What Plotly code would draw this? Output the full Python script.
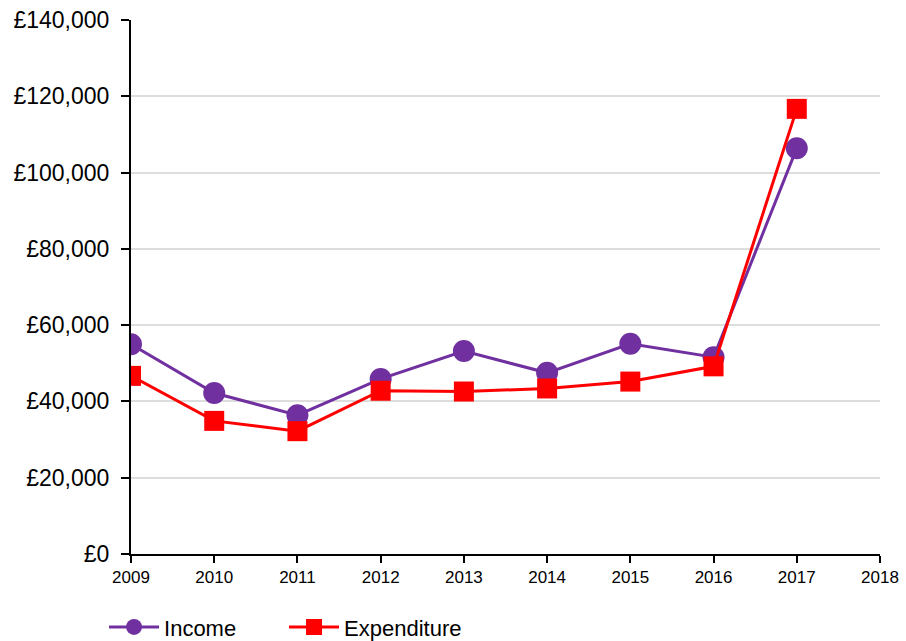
import plotly.graph_objects as go

years = [2009, 2010, 2011, 2012, 2013, 2014, 2015, 2016, 2017]
income = [55000, 42200, 36400, 45900, 53200, 47500, 55100, 51600, 106400]
expenditure = [46700, 34900, 32200, 42800, 42600, 43400, 45200, 49200, 116700]
y_ticks = [0, 20000, 40000, 60000, 80000, 100000, 120000, 140000]
y_tick_labels = ["\u00a3" + f"{v:,}" for v in y_ticks]
x_ticks = [2009, 2010, 2011, 2012, 2013, 2014, 2015, 2016, 2017, 2018]

font = "Liberation Sans, Arial, sans-serif"

fig = go.Figure()
fig.add_trace(go.Scatter(
    x=years, y=income, name="Income", mode="lines+markers",
    line=dict(color="#7030A0", width=3),
    marker=dict(symbol="circle", size=22, color="#7030A0"),
))
fig.add_trace(go.Scatter(
    x=years, y=expenditure, name="Expenditure", mode="lines+markers",
    line=dict(color="#FF0000", width=3),
    marker=dict(symbol="square", size=20, color="#FF0000"),
))

fig.update_layout(
    width=906, height=641,
    margin=dict(l=131, r=26, t=20, b=87, autoexpand=False),
    plot_bgcolor="white", paper_bgcolor="white",
    font=dict(family=font, color="#000000"),
    showlegend=True,
    legend=dict(orientation="h", x=-0.036, xanchor="left", y=-0.137, yanchor="middle",
                font=dict(size=22, family=font), itemwidth=50,
                entrywidth=115, entrywidthmode="pixels", traceorder="normal"),
    xaxis=dict(
        range=[2009, 2018], tickvals=x_ticks, ticktext=[str(v) for v in x_ticks],
        showgrid=False, zeroline=False, showline=True, linecolor="black", linewidth=2,
        ticks="outside", ticklen=7, tickwidth=2, tickcolor="black",
        tickfont=dict(size=17, family=font), fixedrange=True,
    ),
    yaxis=dict(
        range=[0, 140000], tickvals=y_ticks, ticktext=y_tick_labels,
        showgrid=True, gridcolor="#dddddd", gridwidth=2, zeroline=False,
        showline=True, linecolor="black", linewidth=2,
        ticks="outside", ticklen=8, tickwidth=2, tickcolor="black",
        ticklabelstandoff=7,
        tickfont=dict(size=23, family=font), fixedrange=True,
    ),
)

fig.write_html(
    "out.html",
    config={"displayModeBar": False},
    post_script="document.body.style.margin='0';document.body.style.padding='0';document.body.style.overflow='hidden';",
)
